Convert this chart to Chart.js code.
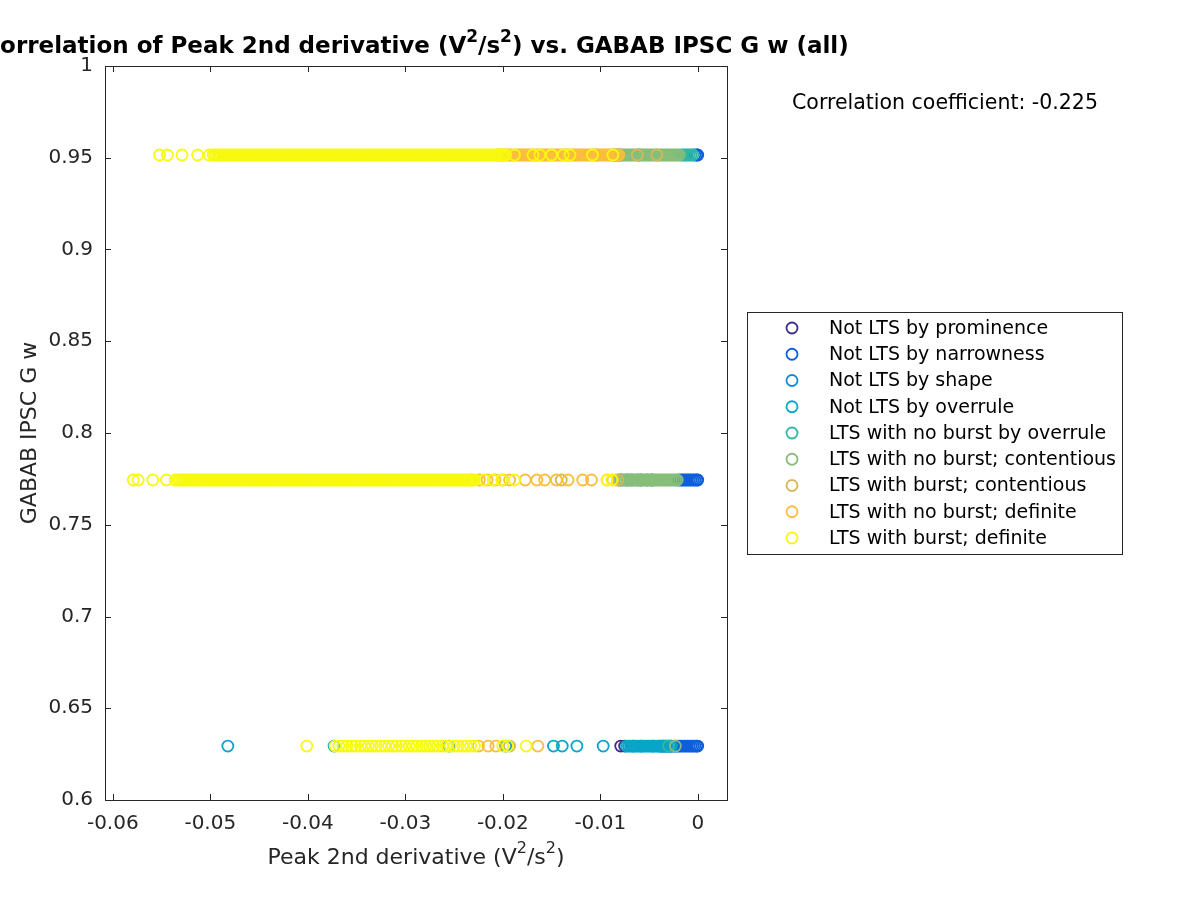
<!DOCTYPE html>
<html>
<head>
<meta charset="utf-8">
<script src="https://cdn.jsdelivr.net/npm/chart.js@4"></script>
<style>
  html, body { margin: 0; padding: 0; background: #fff; }
  #wrap { width: 1200px; height: 900px; position: relative; }
</style>
</head>
<body>
<div id="wrap"><canvas id="myChart"></canvas></div>
<script>
// y levels of the three horizontal rows
var levelHi = 0.9515;
var levelMid = 0.7744;
var levelLo = 0.6294;

var xTicks = [-0.06, -0.05, -0.04, -0.03, -0.02, -0.01, 0];
var xTickLabels = ['-0.06', '-0.05', '-0.04', '-0.03', '-0.02', '-0.01', '0'];
var yTicks = [0.6, 0.65, 0.7, 0.75, 0.8, 0.85, 0.9, 0.95, 1];
var yTickLabels = ['0.6', '0.65', '0.7', '0.75', '0.8', '0.85', '0.9', '0.95', '1'];

var categories = [
    'Not LTS by prominence',
    'Not LTS by narrowness',
    'Not LTS by shape',
    'Not LTS by overrule',
    'LTS with no burst by overrule',
    'LTS with no burst; contentious',
    'LTS with burst; contentious',
    'LTS with no burst; definite',
    'LTS with burst; definite'
];
var colors = ['#3b2b90', '#0e5fdc', '#1787d6', '#08a5c9', '#2fb7a3', '#86be79', '#d3b958', '#fbbd3d', '#f7f90f'];

// Not LTS by prominence
var prominenceHi = [];
var prominenceMid = [];
var prominenceLo = [-0.0079, -0.0075];

// Not LTS by narrowness
var narrownessHi = [-0.0080, -0.0003, -0.0001, 0.0];
var narrownessMid = [-0.0072, -0.0058, -0.0047, -0.0019, -0.0017, -0.0015, -0.0013, -0.0011, -0.0009,
    -0.0007, -0.0005, -0.0003, -0.0001, 0.0];
var narrownessLo = [-0.0039, -0.0037, -0.0035, -0.0033, -0.0031, -0.0029, -0.0027, -0.0025, -0.0023,
    -0.0021, -0.0019, -0.0017, -0.0015, -0.0013, -0.0011, -0.0009, -0.0007, -0.0005, -0.0003, -0.0001, 0.0];

// Not LTS by shape
var shapeHi = [-0.0084];
var shapeMid = [-0.0079];
var shapeLo = [-0.0066, -0.0058, -0.0046];

// Not LTS by overrule
var overruleHi = [-0.0087, -0.0060];
var overruleMid = [-0.0068, -0.0052];
var overruleLo = [-0.0482, -0.0373, -0.0255, -0.0197, -0.0148, -0.0139, -0.0124, -0.0097,
    -0.0073, -0.0071, -0.0069, -0.0067, -0.0065, -0.0063, -0.0061, -0.0059, -0.0057, -0.0055, -0.0053,
    -0.0051, -0.0049, -0.0047, -0.0045, -0.0043, -0.0041, -0.0039, -0.0037, -0.0035, -0.0033, -0.0031,
    -0.0029, -0.0027];

// LTS with no burst by overrule
var noBurstOverruleHi = [-0.0017, -0.0015, -0.0013, -0.0011, -0.0009, -0.0007, -0.0005];
var noBurstOverruleMid = [-0.0061];
var noBurstOverruleLo = [-0.0030];

// LTS with no burst; contentious
var noBurstContHi = [-0.0083, -0.0081, -0.0079, -0.0077, -0.0075, -0.0073, -0.0071, -0.0069, -0.0067,
    -0.0065, -0.0063, -0.0061, -0.0059, -0.0057, -0.0055, -0.0053, -0.0051, -0.0049, -0.0047, -0.0045,
    -0.0043, -0.0041, -0.0039, -0.0037, -0.0035, -0.0033, -0.0031, -0.0029, -0.0027, -0.0025, -0.0023,
    -0.0021, -0.0019];
var noBurstContMid = [-0.0081, -0.0079, -0.0077, -0.0075, -0.0073, -0.0071, -0.0069, -0.0067,
    -0.0065, -0.0063, -0.0061, -0.0059, -0.0057, -0.0055, -0.0053, -0.0051, -0.0049, -0.0047, -0.0045,
    -0.0043, -0.0041, -0.0039, -0.0037, -0.0035, -0.0033, -0.0031, -0.0029, -0.0027, -0.0025, -0.0023,
    -0.0021];
var noBurstContLo = [-0.0023];

// LTS with burst; contentious
var burstContHi = [-0.0104, -0.0062, -0.0042];
var burstContMid = [-0.0140, -0.0082];
var burstContLo = [-0.0193];

// LTS with no burst; definite
var noBurstDefHi = [-0.0205, -0.0203, -0.0201, -0.0199, -0.0197, -0.0195, -0.0193, -0.0191, -0.0189,
    -0.0187, -0.0185, -0.0183, -0.0181, -0.0179, -0.0177, -0.0175, -0.0173, -0.0171, -0.0169, -0.0167,
    -0.0165, -0.0163, -0.0161, -0.0159, -0.0157, -0.0155, -0.0153, -0.0151, -0.0149, -0.0147, -0.0145,
    -0.0143, -0.0141, -0.0139, -0.0137, -0.0135, -0.0133, -0.0131, -0.0129, -0.0127, -0.0125, -0.0123,
    -0.0121, -0.0119, -0.0117, -0.0115, -0.0113, -0.0111, -0.0109, -0.0107, -0.0105, -0.0103, -0.0101,
    -0.0099, -0.0097, -0.0095, -0.0093, -0.0091, -0.0089, -0.0087, -0.0085, -0.0083, -0.0081];
var noBurstDefMid = [-0.0232, -0.0224, -0.0216, -0.0208, -0.0200, -0.0193, -0.0177, -0.0165, -0.0157,
    -0.0145, -0.0133, -0.0118, -0.0109, -0.0093, -0.0087];
var noBurstDefLo = [-0.0225, -0.0215, -0.0207, -0.0164];

// LTS with burst; definite
var burstDefHi = [-0.0552, -0.0544, -0.0529, -0.0513, -0.0501,
    -0.0497, -0.0495, -0.0493, -0.0491, -0.0489, -0.0487, -0.0485, -0.0483, -0.0481, -0.0479,
    -0.0477, -0.0475, -0.0473, -0.0471, -0.0469, -0.0467, -0.0465, -0.0463, -0.0461, -0.0459,
    -0.0457, -0.0455, -0.0453, -0.0451, -0.0449, -0.0447, -0.0445, -0.0443, -0.0441, -0.0439,
    -0.0437, -0.0435, -0.0433, -0.0431, -0.0429, -0.0427, -0.0425, -0.0423, -0.0421, -0.0419,
    -0.0417, -0.0415, -0.0413, -0.0411, -0.0409, -0.0407, -0.0405, -0.0403, -0.0401, -0.0399,
    -0.0397, -0.0395, -0.0393, -0.0391, -0.0389, -0.0387, -0.0385, -0.0383, -0.0381, -0.0379,
    -0.0377, -0.0375, -0.0373, -0.0371, -0.0369, -0.0367, -0.0365, -0.0363, -0.0361, -0.0359,
    -0.0357, -0.0355, -0.0353, -0.0351, -0.0349, -0.0347, -0.0345, -0.0343, -0.0341, -0.0339,
    -0.0337, -0.0335, -0.0333, -0.0331, -0.0329, -0.0327, -0.0325, -0.0323, -0.0321, -0.0319,
    -0.0317, -0.0315, -0.0313, -0.0311, -0.0309, -0.0307, -0.0305, -0.0303, -0.0301, -0.0299,
    -0.0297, -0.0295, -0.0293, -0.0291, -0.0289, -0.0287, -0.0285, -0.0283, -0.0281, -0.0279,
    -0.0277, -0.0275, -0.0273, -0.0271, -0.0269, -0.0267, -0.0265, -0.0263, -0.0261, -0.0259,
    -0.0257, -0.0255, -0.0253, -0.0251, -0.0249, -0.0247, -0.0245, -0.0243, -0.0241, -0.0239,
    -0.0237, -0.0235, -0.0233, -0.0231, -0.0229, -0.0227, -0.0225, -0.0223, -0.0221, -0.0219,
    -0.0217, -0.0215, -0.0213, -0.0211, -0.0209, -0.0207, -0.0205, -0.0203, -0.0201, -0.0199, -0.0197,
    -0.0188, -0.0169, -0.0162, -0.0150, -0.0138, -0.0131, -0.0108, -0.0087];
var burstDefMid = [-0.0579, -0.0574, -0.0559, -0.0545, -0.0536,
    -0.0533, -0.0531, -0.0529, -0.0527, -0.0525, -0.0523, -0.0521, -0.0519, -0.0517, -0.0515,
    -0.0513, -0.0511, -0.0509, -0.0507, -0.0505, -0.0503, -0.0501, -0.0499,
    -0.0497, -0.0495, -0.0493, -0.0491, -0.0489, -0.0487, -0.0485, -0.0483, -0.0481, -0.0479,
    -0.0477, -0.0475, -0.0473, -0.0471, -0.0469, -0.0467, -0.0465, -0.0463, -0.0461, -0.0459,
    -0.0457, -0.0455, -0.0453, -0.0451, -0.0449, -0.0447, -0.0445, -0.0443, -0.0441, -0.0439,
    -0.0437, -0.0435, -0.0433, -0.0431, -0.0429, -0.0427, -0.0425, -0.0423, -0.0421, -0.0419,
    -0.0417, -0.0415, -0.0413, -0.0411, -0.0409, -0.0407, -0.0405, -0.0403, -0.0401, -0.0399,
    -0.0397, -0.0395, -0.0393, -0.0391, -0.0389, -0.0387, -0.0385, -0.0383, -0.0381, -0.0379,
    -0.0377, -0.0375, -0.0373, -0.0371, -0.0369, -0.0367, -0.0365, -0.0363, -0.0361, -0.0359,
    -0.0357, -0.0355, -0.0353, -0.0351, -0.0349, -0.0347, -0.0345, -0.0343, -0.0341, -0.0339,
    -0.0337, -0.0335, -0.0333, -0.0331, -0.0329, -0.0327, -0.0325, -0.0323, -0.0321, -0.0319,
    -0.0317, -0.0315, -0.0313, -0.0311, -0.0309, -0.0307, -0.0305, -0.0303, -0.0301, -0.0299,
    -0.0297, -0.0295, -0.0293, -0.0291, -0.0289, -0.0287, -0.0285, -0.0283, -0.0281, -0.0279,
    -0.0277, -0.0275, -0.0273, -0.0271, -0.0269, -0.0267, -0.0265, -0.0263, -0.0261, -0.0259,
    -0.0257, -0.0255, -0.0253, -0.0251, -0.0249, -0.0247, -0.0245, -0.0243, -0.0241, -0.0239,
    -0.0237, -0.0235, -0.0233, -0.0231, -0.0229,
    -0.0219, -0.0210, -0.0201, -0.0188, -0.0093, -0.0088];
var burstDefLo = [-0.0401,
    -0.0372, -0.0368, -0.0364, -0.0360, -0.0355, -0.0351, -0.0346, -0.0342, -0.0338, -0.0334, -0.0330,
    -0.0325, -0.0321, -0.0317, -0.0313, -0.0309, -0.0304, -0.0300, -0.0296, -0.0292, -0.0288, -0.0283,
    -0.0279, -0.0275, -0.0271, -0.0267, -0.0262, -0.0258, -0.0254, -0.0250, -0.0246, -0.0241, -0.0237,
    -0.0233, -0.0229, -0.0200, -0.0195, -0.0176];

var rows = [
    [prominenceHi, prominenceMid, prominenceLo],
    [narrownessHi, narrownessMid, narrownessLo],
    [shapeHi, shapeMid, shapeLo],
    [overruleHi, overruleMid, overruleLo],
    [noBurstOverruleHi, noBurstOverruleMid, noBurstOverruleLo],
    [noBurstContHi, noBurstContMid, noBurstContLo],
    [burstContHi, burstContMid, burstContLo],
    [noBurstDefHi, noBurstDefMid, noBurstDefLo],
    [burstDefHi, burstDefMid, burstDefLo]
];

// text pieces, superscripts marked with sup
var titleParts = [{ t: 'Correlation of Peak 2nd derivative (V' }, { t: '2', sup: true }, { t: '/s' },
    { t: '2', sup: true }, { t: ') vs. GABAB IPSC G w (all)' }];
var xTitleParts = [{ t: 'Peak 2nd derivative (V' }, { t: '2', sup: true }, { t: '/s' },
    { t: '2', sup: true }, { t: ')' }];
var yTitle = 'GABAB IPSC G w';
var coeffText = 'Correlation coefficient: -0.225';

var axisColor = '#262626';
var fontFam = '"DejaVu Sans", sans-serif';

function toPoints(xs, y) {
    return xs.map(function (x) { return { x: x, y: y }; });
}

var datasets = categories.map(function (name, i) {
    var r = rows[i];
    return {
        label: name,
        data: toPoints(r[0], levelHi).concat(toPoints(r[1], levelMid), toPoints(r[2], levelLo)),
        borderColor: colors[i],
        backgroundColor: 'rgba(0,0,0,0)',
        pointRadius: 5.5,
        pointBorderWidth: 1.8,
        pointStyle: 'circle',
        order: categories.length - 1 - i   // last category on top, like MATLAB
    };
});

function drawParts(ctx, parts, cx, cy, size, weight) {
    var fontFor = function (p) {
        return weight + ' ' + (p.sup ? Math.round(size * 0.72) : size) + 'px ' + fontFam;
    };
    var total = 0;
    parts.forEach(function (p) { ctx.font = fontFor(p); total += ctx.measureText(p.t).width; });
    var x = cx - total / 2;
    ctx.textAlign = 'left';
    ctx.textBaseline = 'middle';
    parts.forEach(function (p) {
        ctx.font = fontFor(p);
        ctx.fillText(p.t, x, p.sup ? cy - size * 0.4 : cy);
        x += ctx.measureText(p.t).width;
    });
}

// box, inward ticks, titles, annotation and legend
var matlabDecor = {
    id: 'matlabDecor',
    afterDraw: function (chart) {
        var ctx = chart.ctx;
        var a = chart.chartArea;
        var xs = chart.scales.x, ys = chart.scales.y;
        ctx.save();
        ctx.strokeStyle = axisColor;
        ctx.lineWidth = 1;
        ctx.strokeRect(Math.round(a.left) + 0.5, Math.round(a.top) + 0.5,
            Math.round(a.right - a.left), Math.round(a.bottom - a.top));
        var tl = 6;
        ctx.beginPath();
        xTicks.forEach(function (v) {
            var px = Math.round(xs.getPixelForValue(v)) + 0.5;
            ctx.moveTo(px, a.bottom); ctx.lineTo(px, a.bottom - tl);
            ctx.moveTo(px, a.top); ctx.lineTo(px, a.top + tl);
        });
        yTicks.forEach(function (v) {
            var py = Math.round(ys.getPixelForValue(v)) + 0.5;
            ctx.moveTo(a.left, py); ctx.lineTo(a.left + tl, py);
            ctx.moveTo(a.right, py); ctx.lineTo(a.right - tl, py);
        });
        ctx.stroke();

        var cx = (a.left + a.right) / 2;
        ctx.fillStyle = '#000';
        drawParts(ctx, titleParts, cx, 47, 23, 'bold');

        ctx.fillStyle = axisColor;
        drawParts(ctx, xTitleParts, cx, 858, 22, 'normal');
        ctx.save();
        ctx.translate(30, (a.top + a.bottom) / 2);
        ctx.rotate(-Math.PI / 2);
        ctx.textAlign = 'center';
        ctx.textBaseline = 'middle';
        ctx.font = '22px ' + fontFam;
        ctx.fillText(yTitle, 0, 0);
        ctx.restore();

        ctx.fillStyle = '#000';
        ctx.textAlign = 'center';
        ctx.font = '20.5px ' + fontFam;
        ctx.fillText(coeffText, 945, 104);

        // legend
        ctx.fillStyle = '#fff';
        ctx.fillRect(747, 312, 375, 242);
        ctx.strokeStyle = axisColor;
        ctx.strokeRect(747.5, 312.5, 375, 242);
        ctx.font = '19px ' + fontFam;
        ctx.textAlign = 'left';
        categories.forEach(function (name, i) {
            var y = 328 + i * 26.25;
            ctx.beginPath();
            ctx.arc(792, y, 5.5, 0, Math.PI * 2);
            ctx.strokeStyle = colors[i];
            ctx.lineWidth = 1.8;
            ctx.stroke();
            ctx.fillStyle = '#000';
            ctx.fillText(name, 829, y + 1);
        });
        ctx.restore();
    }
};

var ctx = document.getElementById('myChart').getContext('2d');
var myChart = new Chart(ctx, {
    type: 'scatter',
    data: { datasets: datasets },
    options: {
        responsive: true,
        maintainAspectRatio: false,
        animation: false,
        events: [],
        layout: { padding: { left: 0, right: 473, top: 66, bottom: 0 } },
        plugins: {
            legend: { display: false },
            tooltip: { enabled: false }
        },
        scales: {
            x: {
                type: 'linear',
                min: -0.0608,
                max: 0.003,
                grid: { display: false, drawTicks: false },
                border: { display: false },
                afterBuildTicks: function (s) { s.ticks = xTicks.map(function (v) { return { value: v }; }); },
                afterFit: function (s) { s.height = 100; },
                ticks: {
                    autoSkip: false,
                    maxRotation: 0,
                    padding: 12,
                    color: axisColor,
                    font: { family: fontFam, size: 20 },
                    callback: function (v, i) { return xTickLabels[i]; }
                }
            },
            y: {
                type: 'linear',
                min: 0.6,
                max: 1,
                grid: { display: false, drawTicks: false },
                border: { display: false },
                afterBuildTicks: function (s) { s.ticks = yTicks.map(function (v) { return { value: v }; }); },
                afterFit: function (s) { s.width = 105; },
                ticks: {
                    autoSkip: false,
                    padding: 12,
                    color: axisColor,
                    font: { family: fontFam, size: 20 },
                    callback: function (v, i) { return yTickLabels[i]; }
                }
            }
        }
    },
    plugins: [matlabDecor]
});
</script>
</body>
</html>
